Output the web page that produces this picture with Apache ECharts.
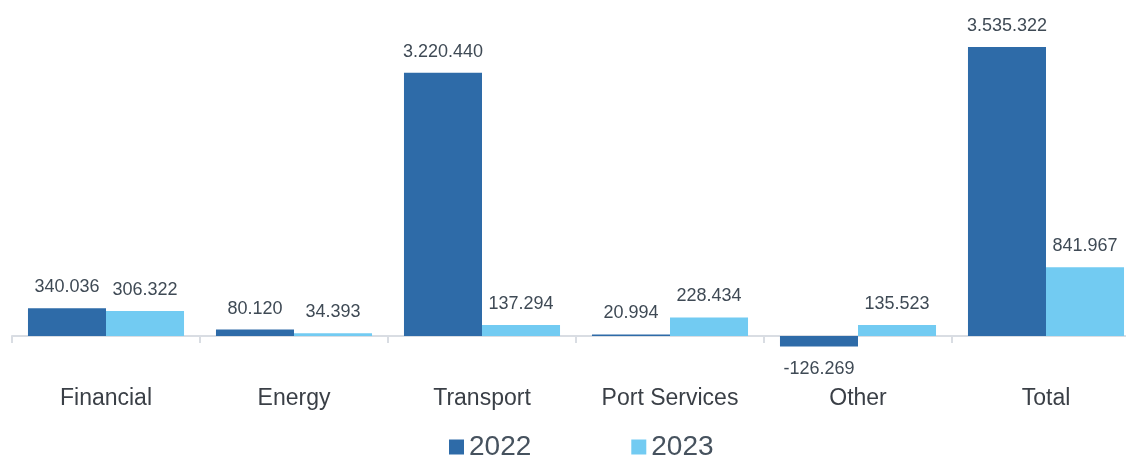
<!DOCTYPE html>
<html><head><meta charset="utf-8">
<script src="https://cdn.jsdelivr.net/npm/echarts@6/dist/echarts.min.js"></script>
<style>html,body{margin:0;padding:0;background:#fff;overflow:hidden;width:1126px;height:455px}#c{width:1140px;height:455px}</style>
</head><body><div id="c"></div>
<script>
const categories = ['Financial', 'Energy', 'Transport', 'Port Services', 'Other', 'Total'];
const seriesNames = ['2022', '2023'];
const values2022 = [340036, 80120, 3220440, 20994, -126269, 3535322];
const values2023 = [306322, 34393, 137294, 228434, 135523, 841967];

function fmt(v) {
  const s = Math.abs(v).toString().replace(/\B(?=(\d{3})+(?!\d))/g, '.');
  return (v < 0 ? '-' : '') + s;
}
function mkData(arr) {
  return arr.map(v => ({
    value: v,
    label: { position: v < 0 ? 'bottom' : 'top', distance: v < 0 ? 14 : 12 }
  }));
}
const chart = echarts.init(document.getElementById('c'));
const labelStyle = { show: true, color: '#3f4a55', fontSize: 18, fontFamily: 'Liberation Sans', formatter: p => fmt(p.value) };
chart.setOption({
  animation: false,
  textStyle: { fontFamily: 'Liberation Sans' },
  grid: { left: 12, right: 0, top: 9, bottom: 78, containLabel: false },
  legend: {
    data: seriesNames,
    left: 444, top: 428,
    itemWidth: 15, itemHeight: 15, itemGap: 100,
    icon: 'rect',
    textStyle: { fontSize: 28, color: '#46525e', fontFamily: 'Liberation Sans' }
  },
  xAxis: {
    type: 'category',
    data: categories,
    axisLine: { lineStyle: { color: '#d9dde3', width: 2 } },
    axisTick: { show: true, length: 7, lineStyle: { color: '#d9dde3', width: 2 } },
    axisLabel: { margin: 10, fontSize: 23, color: '#3a3f46', fontFamily: 'Liberation Sans', interval: 0 }
  },
  yAxis: {
    type: 'value', min: -500000, max: 4000000,
    show: false, splitLine: { show: false }
  },
  series: [
    { name: seriesNames[0], type: 'bar', data: mkData(values2022), barGap: '0%', barCategoryGap: '17%',
      itemStyle: { color: '#2e6ba8' }, label: labelStyle },
    { name: seriesNames[1], type: 'bar', data: mkData(values2023), barGap: '0%', barCategoryGap: '17%',
      itemStyle: { color: '#72cbf2' }, label: labelStyle }
  ]
});
</script></body></html>
